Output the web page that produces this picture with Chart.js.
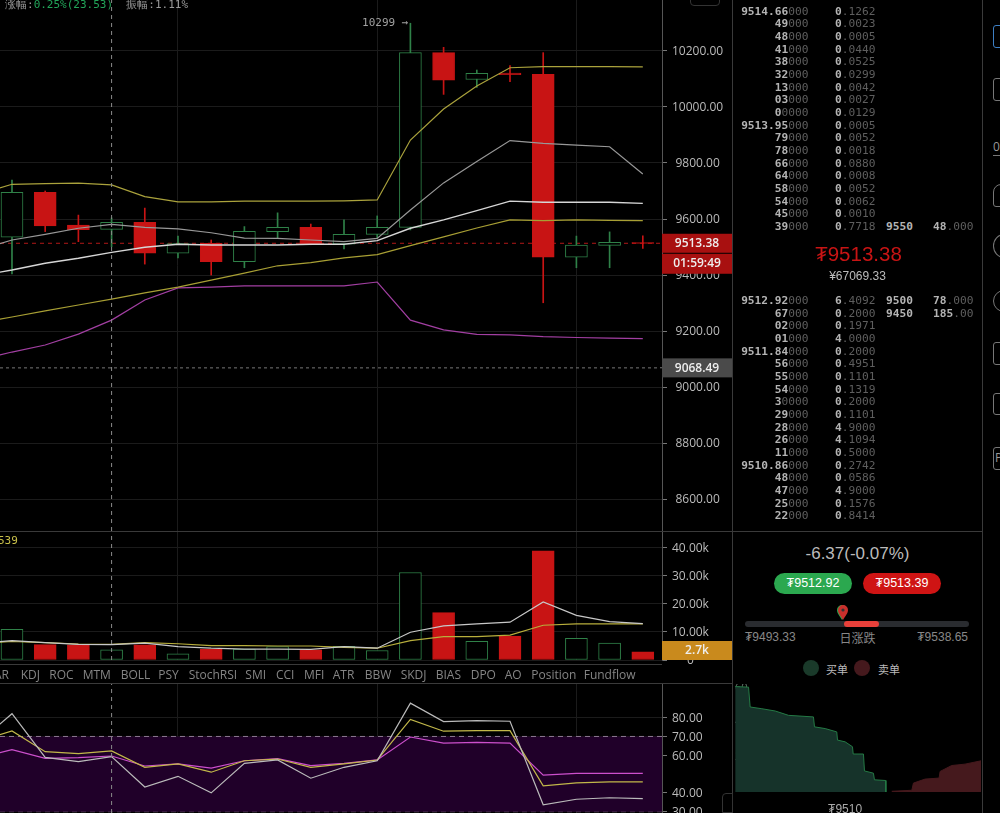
<!DOCTYPE html>
<html>
<head>
<meta charset="utf-8">
<script src="https://cdn.jsdelivr.net/npm/chart.js@4"></script>
<style>
html, body { margin: 0; background: #000; width: 1000px; height: 813px; overflow: hidden; }
body { position: relative; font-family: "Open Sans", sans-serif; color: #bbb; }
canvas { position: absolute; display: block; }
.abs { position: absolute; white-space: nowrap; }
.mono { font-family: "DejaVu Sans Mono", monospace; font-size: 11.2px; line-height: 12.67px; }
.hi { color: #b4b4b4; font-weight: bold; }
.lo { color: #5e5e5e; }
.sans { font-family: "Liberation Sans", sans-serif; }
.line { position: absolute; background: #3a3a3a; }
.icon { position: absolute; left: 993px; width: 22px; border: 1px solid #777; border-radius: 3px; box-sizing: border-box; font-size: 12px; color: #999; padding-left: 1px; }
</style>
</head>
<body>
<canvas id="price-chart" width="732" height="531" style="left:0;top:0"></canvas>
<canvas id="volume-chart" width="732" height="136" style="left:0;top:531px"></canvas>
<canvas id="rsi-chart" width="732" height="129" style="left:0;top:684px"></canvas>
<canvas id="depth-chart" width="248" height="129" style="left:733px;top:684px"></canvas>

<div class="line" style="left:0;top:531px;width:982px;height:1px"></div>
<div class="line" style="left:0;top:664px;width:662px;height:1px"></div>
<div class="line" style="left:0;top:683px;width:732px;height:1px"></div>
<div class="line" style="left:732px;top:0;width:1px;height:813px"></div>
<div class="line" style="left:982px;top:0;width:1px;height:813px"></div>

<div class="abs mono" style="left:5px;top:-1px;font-size:11px;color:#999">涨幅:<span style="color:#22a559">0.25%(23.53)</span> &nbsp;振幅:1.11%</div>
<div class="abs mono" style="left:-2px;top:535px;font-size:11px;color:#c9c04a">539</div>
<div class="abs" style="left:690px;top:-8px;width:30px;height:14px;border:1px solid #333;border-radius:4px;box-sizing:border-box"></div>
<div class="abs" style="left:722px;top:793px;width:11px;height:20px;border:1px solid #333;border-radius:4px 0 0 0;box-sizing:border-box"></div>

<div id="tabs"></div>
<div id="book"></div>

<div class="abs sans" style="left:736px;width:245px;top:242px;text-align:center;font-size:20.5px;color:#c81414">₮9513.38</div>
<div class="abs sans" style="left:735px;width:245px;top:269px;text-align:center;font-size:12px;color:#bbb">¥67069.33</div>
<div class="abs sans" style="left:735px;width:245px;top:544px;text-align:center;font-size:17px;color:#bbb">-6.37(-0.07%)</div>
<div class="abs sans" style="left:774px;top:573px;width:78px;height:21px;line-height:21px;border-radius:11px;background:#2ba84f;color:#fff;text-align:center;font-size:12.5px">₮9512.92</div>
<div class="abs sans" style="left:863px;top:573px;width:78px;height:21px;line-height:21px;border-radius:11px;background:#cf1414;color:#fff;text-align:center;font-size:12.5px">₮9513.39</div>
<svg class="abs" style="left:836px;top:604px" width="14" height="17" viewBox="0 0 14 17"><path d="M6 16 C3 11 1 9 1 6 A5 5 0 0 1 11 6 C11 9 9 11 6 16Z" fill="#2ba84f"/><path d="M7 16 C4 11 2 9 2 6 A5 5 0 0 1 12 6 C12 9 10 11 7 16Z" fill="#c9302c"/><circle cx="7" cy="6" r="1.6" fill="#333"/></svg>
<div class="abs" style="left:745px;top:621px;width:224px;height:6px;border-radius:3px;background:#2a2c30"></div>
<div class="abs" style="left:844px;top:621px;width:35px;height:6px;border-radius:3px;background:#e8403a"></div>
<div class="abs sans" style="left:745px;top:630px;font-size:12px;color:#888">₮9493.33</div>
<div class="abs" style="left:735px;width:245px;top:629px;text-align:center;font-size:12px;color:#888;font-family:'Noto Sans CJK SC'">日涨跌</div>
<div class="abs sans" style="right:32px;top:630px;font-size:12px;color:#888">₮9538.65</div>
<div class="abs" style="left:803px;top:660px;width:16px;height:16px;border-radius:8px;background:#1a3a2a"></div>
<div class="abs" style="left:826px;top:661px;font-size:11px;color:#bbb;font-family:'Noto Sans CJK SC'">买单</div>
<div class="abs" style="left:854px;top:660px;width:16px;height:16px;border-radius:8px;background:#45191d"></div>
<div class="abs" style="left:878px;top:661px;font-size:11px;color:#bbb;font-family:'Noto Sans CJK SC'">卖单</div>

<div class="icon" style="top:25px;height:23px;border-color:#3d7fc4"></div>
<div class="icon" style="top:78px;height:23px"></div>
<div class="abs" style="left:993px;top:138px;font-size:12px;color:#999;border-bottom:1px solid #777">0</div>
<div class="icon" style="top:184px;height:23px;border-radius:8px 3px 3px 3px"></div>
<div class="icon" style="top:234px;height:24px;border-radius:50%"></div>
<div class="icon" style="top:290px;height:22px;border-radius:50%"></div>
<div class="icon" style="top:342px;height:23px"></div>
<div class="icon" style="top:393px;height:22px"></div>
<div class="icon" style="top:447px;height:23px;line-height:20px">P</div>

<script>
// candles
const candleOpen  = [9535,9695,9578,9563,9588,9478,9513,9448,9555,9570,9510,9545,9570,10194,10098,10121,10117,9464,9506,9516];
const candleClose = [9695,9575,9562,9588,9478,9512,9448,9556,9570,9510,9545,9570,10194,10096,10120,10115,9464,9507,9517,9513];
const candleHigh  = [9739,9700,9614,9604,9639,9539,9525,9573,9622,9582,9597,9611,10299,10213,10132,10148,10194,9539,9554,9540];
const candleLow   = [9404,9555,9519,9501,9439,9461,9400,9426,9532,9508,9493,9532,9561,10045,10070,10090,9301,9426,9426,9495];

// the overlay lines start one candle left of the visible window
const upperYellow = [9689,9724,9726,9728,9722,9680,9661,9661,9664,9664,9664,9665,9668,9882,9993,10075,10140,10144,10144,10144,10143];
const upperGray   = [9489,9525,9545,9567,9581,9570,9565,9551,9532,9531,9525,9519,9531,9632,9729,9805,9880,9870,9864,9858,9761];
const midWhite    = [9397,9418,9442,9460,9481,9499,9510,9507,9507,9507,9510,9510,9523,9567,9597,9630,9664,9660,9660,9660,9656];
const lowerYellow = [9229,9250,9272,9293,9314,9336,9357,9382,9407,9433,9444,9461,9473,9505,9536,9568,9597,9594,9597,9595,9594];
const lowerPurple = [9097,9125,9150,9189,9239,9311,9354,9357,9361,9361,9361,9361,9375,9239,9204,9188,9186,9180,9177,9175,9173];

const priceTicks = [10200,10000,9800,9600,9400,9200,9000,8800,8600];
const lastPrice = 9513.38;
const markPrice = 9068.49;

// volume, k
const volume = [10.9,5.5,5.4,3.6,5.4,2.2,3.9,3.9,4.8,3.6,4.9,3.4,31.2,16.9,6.7,8.5,38.9,7.7,6.0,2.9];
const volLineWhite  = [6.0,6.9,6.2,5.6,5.5,6.0,4.8,4.2,3.9,3.9,3.8,4.8,4.2,9.9,12.2,12.9,13.5,20.7,15.9,13.7,13.0];
const volLineYellow = [6.0,6.6,6.2,5.7,5.6,6.2,5.8,5.1,5.1,5.0,5.0,4.5,4.2,6.9,8.3,8.3,8.9,12.4,12.9,12.9,12.9];
const volumeTicks = [40,30,20,10,0];

// rsi
const rsiWhite  = [67,82.1,58.9,56.6,59.3,43.1,48.8,40,55.7,57.5,47.8,53.6,57.1,87.7,77.9,78.4,78.1,33.7,36.6,37.4,36.9];
const rsiYellow = [67.6,72.9,61.9,60.9,62.3,53.6,55.4,51,57.1,58,53.6,55.4,57.5,79.1,72.8,73.1,73.1,43.7,45.3,45.8,45.8];
const rsiPurple = [58.6,63,58.4,58.7,59.6,54.3,55.4,53.2,57.1,58.2,54.5,55.7,57.5,69.7,66.5,66.9,66.5,49.4,50.4,50.4,50.4];
const rsiTicks = [80,70,60,40,30];

// depth
const buyPrices = [9502.5,9503.41,9503.52,9504.32,9505.23,9506.14,9507.84,9507.91,9508.64,9509.43,9509.48,9510,9510.5,9510.55,9511.25,9511.32,9511.93,9512,9512.77,9512.78];
const buySizes  = [60.5,60.2,48.8,47.8,46.5,44,43.1,37.4,36.4,34.5,29.8,28.8,26,21.8,21.8,12.1,10.8,7,6.6,0];
const sellPrices = [9513.18,9514.55,9514.66,9515.45,9516.41,9516.48,9517.27,9518.18,9519.27];
const sellSizes  = [0.4,1,5.1,7.4,8,11.8,15.2,16,17.9];

// order book text, the bar splits bright and dim digits
const askPrices = ["9514.66|000","49|000","48|000","41|000","38|000","32|000","13|000","03|000","0|0000","9513.95|000","79|000","78|000","66|000","64|000","58|000","54|000","45|000","39|000"];
const askSizes  = ["0|.1262","0|.0023","0|.0005","0|.0440","0|.0525","0|.0299","0|.0042","0|.0027","0|.0129","0|.0005","0|.0052","0|.0018","0|.0880","0|.0008","0|.0052","0|.0062","0|.0010","0|.7718"];
const bidPrices = ["9512.92|000","67|000","02|000","01|000","9511.84|000","56|000","55|000","54|000","3|0000","29|000","28|000","26|000","11|000","9510.86|000","48|000","47|000","25|000","22|000"];
const bidSizes  = ["6|.4092","0|.2000","0|.1971","4|.0000","0|.2000","0|.4951","0|.1101","0|.1319","0|.2000","0|.1101","4|.9000","4|.1094","0|.5000","0|.2742","0|.0586","4|.9000","0|.1576","0|.8414"];

const tabs = [["AR",-6],["KDJ",20.7],["ROC",49.3],["MTM",82.7],["BOLL",120.7],["PSY",158.3],["StochRSI",188.7],["SMI",245.3],["CCI",276],["MFI",304],["ATR",332.7],["BBW",364.7],["SKDJ",400.7],["BIAS",435.7],["DPO",470.7],["AO",504.7],["Position",531.3],["Fundflow",583.7]];

const GREEN = '#2f8148', RED = '#c81414', GRID = '#1b1b1b', FONT = '"Open Sans", sans-serif';
const xMin = -0.361, xMax = 19.578, crossIndex = 3, gridIndex = [5,11,17];

const series = (arr, first) => arr.map((v, i) => ({x: i + first, y: v}));
const line = (arr, color, width) => ({type: 'line', data: series(arr, -1), borderColor: color, borderWidth: width || 1.2, pointRadius: 0, tension: 0, order: 1});
const rule = (value, color, dash) => ({type: 'line', data: [{x: xMin, y: value}, {x: xMax, y: value}], borderColor: color, borderWidth: 1, borderDash: dash, pointRadius: 0, order: 8});
const cross = (lo, hi) => ({type: 'line', data: [{x: crossIndex, y: lo}, {x: crossIndex, y: hi}], borderColor: '#8a8a8a', borderWidth: 1, borderDash: [4, 4], pointRadius: 0, order: 0});
const noPad = s => { s.paddingTop = s.paddingBottom = s.paddingLeft = s.paddingRight = 0; };

function tagPlugin(tags, notes) {
    return {
        id: 'tags',
        afterDraw(chart) {
            const c = chart.ctx, area = chart.chartArea, y = chart.scales.y, x = chart.scales.x;
            (notes || []).forEach(n => {
                c.font = '11px "DejaVu Sans Mono"';
                c.fillStyle = '#a0a0a0';
                c.textAlign = 'right';
                c.textBaseline = 'middle';
                c.fillText(n.text, x.getPixelForValue(n.index) - 2, y.getPixelForValue(n.value));
            });
            tags.forEach(t => {
                let top = y.getPixelForValue(t.value) - 9.5 + (t.shift || 0);
                top = Math.min(top, area.bottom - 19);
                c.fillStyle = t.bg;
                c.fillRect(area.right, top, 70, t.shift ? 20 : 19);
                c.font = '600 12px ' + FONT;
                c.fillStyle = '#eee';
                c.textAlign = 'center';
                c.textBaseline = 'middle';
                c.fillText(t.text, area.right + 35, top + 10);
            });
        }
    };
}

function axes(ticks, yMin, yMax, fmt) {
    return {
        x: {
            type: 'linear', min: xMin, max: xMax, offset: false,
            afterBuildTicks: s => { s.ticks = gridIndex.map(v => ({value: v})); },
            afterFit: s => { s.height = 0; noPad(s); },
            grid: {color: GRID, drawTicks: false, offset: false},
            border: {display: false},
            ticks: {display: false}
        },
        y: {
            position: 'right', min: yMin, max: yMax,
            afterBuildTicks: s => { s.ticks = ticks.map(v => ({value: v})); },
            afterFit: s => { s.width = 70; noPad(s); },
            grid: {color: GRID, tickColor: '#777', tickLength: 5},
            border: {color: '#555'},
            ticks: {color: '#bbb', padding: 5, labelOffset: 1, crossAlign: 'center', autoSkip: false, font: {family: FONT, size: 12}, callback: fmt}
        }
    };
}
const baseOptions = (scales, bottom) => ({
    responsive: false, animation: false, events: [],
    layout: {autoPadding: false, padding: {bottom: bottom || 0}},
    plugins: {legend: {display: false}, tooltip: {enabled: false}},
    scales: scales
});

const isUp = candleClose.map((c, i) => c >= candleOpen[i]);

// Price panel
new Chart(document.getElementById('price-chart'), {
    type: 'bar',
    data: {
        datasets: [
            rule(lastPrice, '#b01818', [4, 4]),
            rule(markPrice, '#777', [3, 3]),
            {
                data: candleHigh.map((h, i) => ({x: i, y: [candleLow[i], h]})),
                backgroundColor: isUp.map(u => u ? GREEN : RED),
                barThickness: 1, grouped: false, order: 6
            },
            {
                data: candleOpen.map((o, i) => ({x: i, y: [o, candleClose[i]]})),
                backgroundColor: isUp.map(u => u ? '#000' : RED),
                borderColor: isUp.map(u => u ? GREEN : RED),
                borderWidth: 1, borderSkipped: false,
                barThickness: 22, grouped: false, order: 5
            },
            line(upperYellow, '#aaa23c'),
            line(upperGray, '#989898'),
            line(midWhite, '#d6d6d6', 1.4),
            line(lowerYellow, '#a89f34'),
            line(lowerPurple, '#a23fa2'),
            cross(8486, 10382)
        ]
    },
    options: baseOptions(axes(priceTicks, 8486, 10382, v => v.toFixed(2))),
    plugins: [tagPlugin([
        {value: markPrice, text: '9068.49', bg: '#4a4a4a'},
        {value: lastPrice, text: '01:59:49', bg: '#a81010', shift: 20},
        {value: lastPrice, text: '9513.38', bg: '#a81010'}
    ], [{index: 12, value: 10299, text: '10299 →'}])]
});

// Volume panel
new Chart(document.getElementById('volume-chart'), {
    type: 'bar',
    data: {
        datasets: [
            {
                data: volume.map((v, i) => ({x: i, y: v})),
                backgroundColor: isUp.map(u => u ? '#000' : RED),
                borderColor: isUp.map(u => u ? GREEN : RED),
                borderWidth: 1, borderSkipped: false,
                barThickness: 22, grouped: false, order: 5
            },
            line(volLineWhite, '#c8c8c8'),
            line(volLineYellow, '#b8ae3c'),
            cross(0, 46)
        ]
    },
    options: baseOptions(axes(volumeTicks, 0, 46, v => v === 0 ? '0' : v.toFixed(2) + 'k'), 7),
    plugins: [tagPlugin([{value: 2.7, text: '2.7k', bg: '#c98a1d'}])]
});

// RSI panel
new Chart(document.getElementById('rsi-chart'), {
    type: 'line',
    data: {
        datasets: [
            Object.assign(rule(70, '#8d7a92', [5, 4]), {fill: {value: 30}, backgroundColor: '#200029'}),
            rule(30, '#8d7a92', [5, 4]),
            line(rsiWhite, '#bbb'),
            line(rsiYellow, '#c2b84a'),
            line(rsiPurple, '#cc4fcc'),
            cross(29.3, 97.9)
        ]
    },
    options: baseOptions(axes(rsiTicks, 29.3, 97.9, v => v.toFixed(2)))
});

// Depth chart
const depthLine = (xs, ys, color, fill) => ({data: xs.map((x, i) => ({x: x, y: ys[i]})), borderColor: color, backgroundColor: fill, borderWidth: 1, pointRadius: 0, tension: 0, fill: 'origin'});
new Chart(document.getElementById('depth-chart'), {
    type: 'line',
    data: {
        datasets: [
            depthLine(buyPrices, buySizes, '#247a45', '#16332a'),
            depthLine(sellPrices, sellSizes, '#45191d', '#45191d')
        ]
    },
    options: {
        responsive: false, animation: false, events: [],
        layout: {autoPadding: false},
        plugins: {legend: {display: false}, tooltip: {enabled: false}},
        scales: {
            x: {
                type: 'linear', min: 9502.35, max: 9519.27,
                afterBuildTicks: s => { s.ticks = [{value: 9510}]; },
                afterFit: s => { s.height = 21; noPad(s); },
                grid: {display: false},
                border: {display: false},
                ticks: {color: '#aaa', padding: 2, font: {family: '"Liberation Sans"', size: 12}, maxRotation: 0, callback: v => '₮' + v}
            },
            y: {
                min: 0, max: 62, z: 1,
                afterBuildTicks: s => { s.ticks = [20, 40, 60].map(v => ({value: v})); },
                afterFit: s => { s.width = 0; noPad(s); },
                grid: {display: false},
                border: {display: false},
                ticks: {mirror: true, color: '#5f6f65', padding: 2, font: {family: FONT, size: 11}}
            }
        }
    }
});

// Indicator tabs
document.getElementById('tabs').innerHTML = tabs.map(t =>
    '<div class="abs" style="left:' + t[1] + 'px;top:666px;font-size:12px;color:#858585">' + t[0] + '</div>').join('');

// Order book
const cell = (txt, style) => {
    const p = txt.split('|');
    return '<div class="abs mono" style="' + style + '"><span class="hi">' + p[0] + '</span><span class="lo">' + p[1] + '</span></div>';
};
function rows(prices, sizes, top) {
    return prices.map((p, i) => {
        const y = top + 12.67 * i;
        return cell(p, 'right:' + (1000 - 808.5) + 'px;top:' + y + 'px') + cell(sizes[i], 'left:835px;top:' + y + 'px');
    }).join('');
}
const wall = (price, size, y) => '<div class="abs mono hi" style="left:886px;top:' + y + 'px">' + price + '</div>' + cell(size, 'right:26.5px;top:' + y + 'px');
document.getElementById('book').innerHTML =
    rows(askPrices, askSizes, 5.6) + rows(bidPrices, bidSizes, 295) +
    wall('9550', '48|.000', 5.6 + 12.67 * 17) +
    wall('9500', '78|.000', 295) + wall('9450', '185|.00', 295 + 12.67);
</script>
</body>
</html>
